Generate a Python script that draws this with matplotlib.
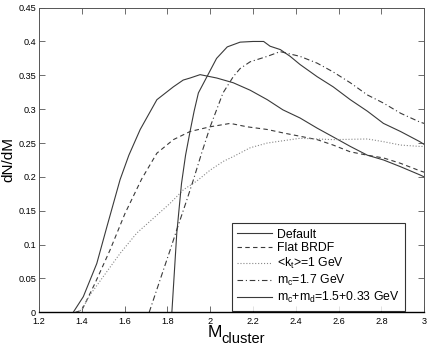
import matplotlib
matplotlib.use("Agg")
import matplotlib.pyplot as plt

plt.rcParams['font.family'] = ['Liberation Sans', 'DejaVu Sans']
plt.rcParams['mathtext.fontset'] = 'custom'
plt.rcParams['mathtext.rm'] = 'Liberation Sans'
plt.rcParams['mathtext.it'] = 'Liberation Sans'

# Default
x_def = [1.36, 1.407, 1.47, 1.517, 1.579, 1.62, 1.673, 1.751, 1.828, 1.874, 1.906,
         1.953, 2.0, 2.031, 2.108, 2.187, 2.267, 2.34, 2.42, 2.5, 2.575, 2.655, 2.735,
         2.81, 2.89, 2.98, 3.0]
y_def = [0.0, 0.023, 0.072, 0.126, 0.196, 0.232, 0.27, 0.314, 0.333, 0.343, 0.346,
         0.351, 0.348, 0.346, 0.339, 0.328, 0.314, 0.299, 0.287, 0.272, 0.259, 0.245, 0.232,
         0.225, 0.215, 0.203, 0.2]

# Flat BRDF
x_flat = [1.37, 1.40, 1.462, 1.532, 1.602, 1.68, 1.751, 1.828, 1.906, 2.0, 2.094, 2.172,
          2.267, 2.34, 2.42, 2.5, 2.575, 2.655, 2.735, 2.81, 2.89, 2.98, 3.0]
y_flat = [0.0, 0.003, 0.043, 0.092, 0.146, 0.197, 0.235, 0.255, 0.267, 0.274, 0.279, 0.274,
          0.27, 0.265, 0.26, 0.255, 0.247, 0.237, 0.232, 0.228, 0.22, 0.209, 0.207]

# <kt>=1 GeV
x_kt = [1.38, 1.40, 1.439, 1.501, 1.579, 1.657, 1.735, 1.813, 1.875, 1.938, 2.0, 2.062,
        2.108, 2.187, 2.267, 2.42, 2.575, 2.735, 2.81, 2.89, 2.98, 3.0]
y_kt = [0.0, 0.004, 0.026, 0.053, 0.087, 0.117, 0.139, 0.161, 0.181, 0.194, 0.21, 0.223,
        0.23, 0.243, 0.25, 0.257, 0.255, 0.256, 0.252, 0.247, 0.245, 0.245]

# mc=1.7 GeV
x_mc = [1.715, 1.766, 1.813, 1.844, 1.891, 1.922, 1.96, 2.0, 2.06, 2.108, 2.14, 2.187,
        2.267, 2.327, 2.42, 2.5, 2.575, 2.655, 2.735, 2.81, 2.89, 2.98, 3.0]
y_mc = [0.0, 0.048, 0.092, 0.122, 0.166, 0.196, 0.235, 0.274, 0.324, 0.348, 0.36, 0.37,
        0.378, 0.385, 0.378, 0.368, 0.355, 0.339, 0.321, 0.309, 0.294, 0.281, 0.279]

# mc+md=1.5+0.33 GeV
x_md = [1.821, 1.844, 1.866, 1.885, 1.906, 1.925, 1.945, 1.985, 2.03, 2.08, 2.14, 2.2,
        2.25, 2.28, 2.328, 2.374, 2.42, 2.5, 2.575, 2.655, 2.735, 2.81, 2.89, 2.98, 3.0]
y_md = [0.0, 0.117, 0.19, 0.232, 0.267, 0.297, 0.324, 0.348, 0.375, 0.392, 0.399, 0.40,
        0.40, 0.393, 0.388, 0.378, 0.366, 0.348, 0.333, 0.314, 0.297, 0.279, 0.267, 0.252, 0.248]

col = '#3a3a3a'
fig = plt.figure(figsize=(4.31, 3.46), dpi=100)
ax = fig.add_axes([0.0905, 0.0974, 0.8935, 0.8806])

ax.plot(x_def, y_def, '-', color=col, lw=0.8, label='Default')
ax.plot(x_flat, y_flat, '--', color=col, lw=0.8, dashes=(4, 3), label='Flat BRDF')
ax.plot(x_kt, y_kt, ':', color='#888888', lw=0.8, label=r'<k$_\mathregular{t}$>=1 GeV')
ax.plot(x_mc, y_mc, '-.', color=col, lw=0.8, dashes=(5, 2.5, 1, 2.5), label=r'm$_\mathregular{c}$=1.7 GeV')
ax.plot(x_md, y_md, '-', color=col, lw=0.8,
        label=r'm$_\mathregular{c}$+m$_\mathregular{d}$=1.5+0.33 GeV')

ax.set_xlim(1.2, 3.0)
ax.set_ylim(0, 0.45)
ax.set_xticks([1.2, 1.4, 1.6, 1.8, 2.0, 2.2, 2.4, 2.6, 2.8, 3.0])
ax.set_xticklabels(['1.2', '1.4', '1.6', '1.8', '2', '2.2', '2.4', '2.6', '2.8', '3'])
ax.set_yticks([0, 0.05, 0.1, 0.15, 0.2, 0.25, 0.3, 0.35, 0.4, 0.45])
ax.set_yticklabels(['0', '0.05', '0.1', '0.15', '0.2', '0.25', '0.3', '0.35', '0.4', '0.45'])
ax.tick_params(direction='in', top=True, right=True, labelsize=6.6, length=4, width=0.6,
               color='#555555')
ax.tick_params(axis='x', pad=3.5)
ax.tick_params(axis='y', pad=2)
for s in ax.spines.values():
    s.set_linewidth(0.7)
    s.set_color('#555555')
ax.spines['bottom'].set_color('black')
ax.spines['bottom'].set_linewidth(1.0)

# x label: big M with "cluster" subscript
fig.text(208 / 431, 9 / 346, 'M', fontsize=12.5, ha='left', va='baseline')
fig.text(221 / 431, 3 / 346, 'cluster', fontsize=10.5, ha='left', va='baseline')
ax.set_ylabel('dN/dM', fontsize=11, labelpad=2)

# legend box from pixel (232, 223) to (401, 303)
leg = ax.legend(loc='upper left', bbox_to_anchor=(0.501, 0.293),
                fontsize=8.8, frameon=True, fancybox=False, handlelength=2.8,
                labelspacing=0.15, borderpad=0.45, handletextpad=0.45, borderaxespad=0)
leg.get_frame().set_edgecolor('black')
leg.get_frame().set_linewidth(0.8)

fig.savefig('out.png', dpi=100)
